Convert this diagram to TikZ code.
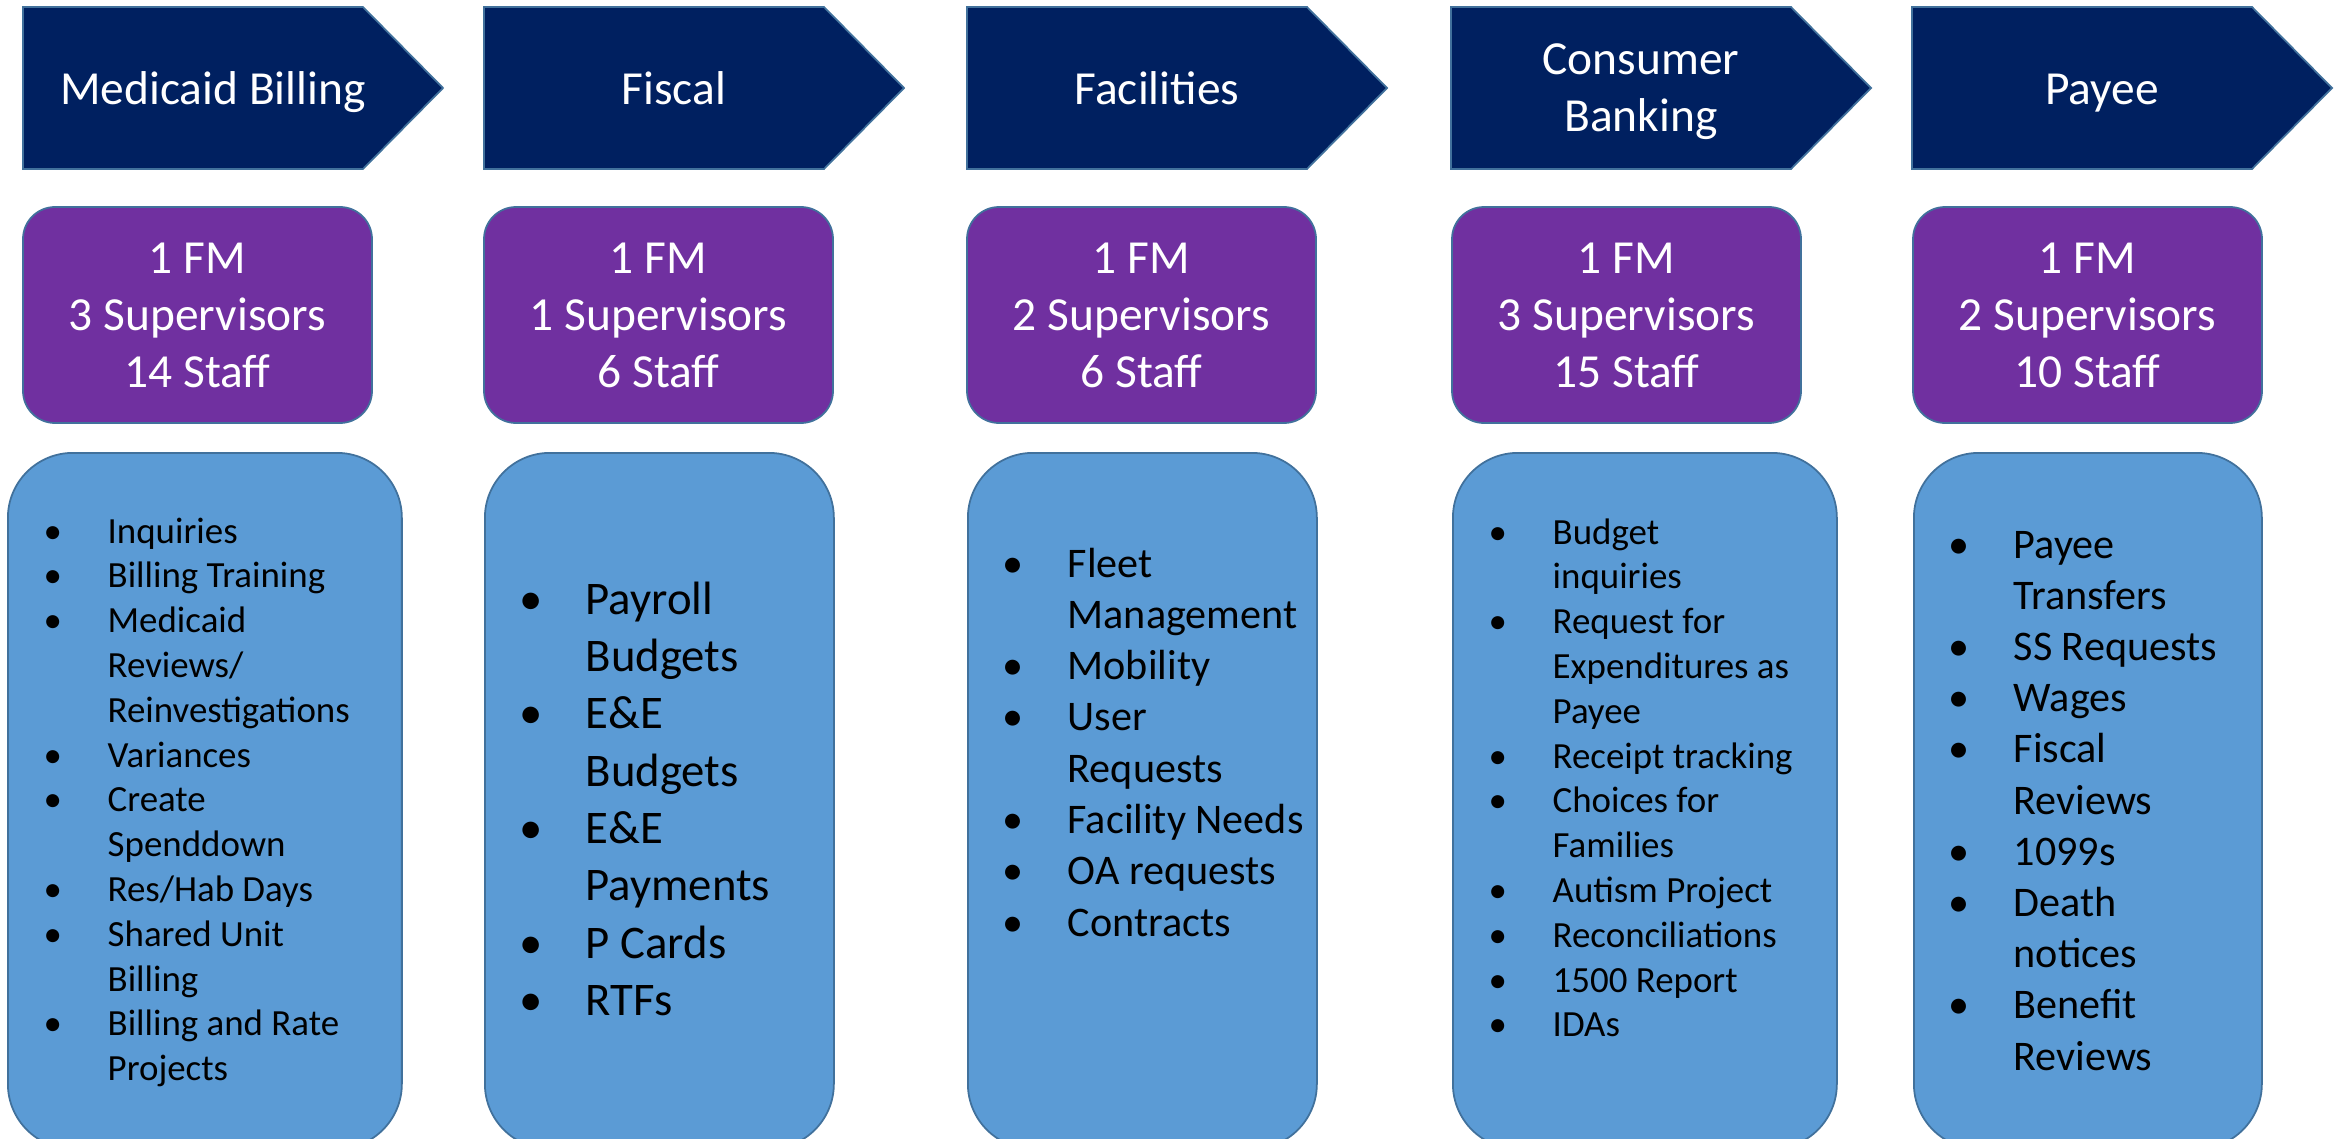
\documentclass[tikz,border=0pt]{standalone}
\usepackage{fontspec}
\setmainfont{Carlito}
\usepackage{tikz}

\definecolor{navy}{HTML}{002060}
\definecolor{grape}{HTML}{7030A0}
\definecolor{sky}{HTML}{5B9BD5}
\definecolor{rim}{HTML}{41719C}
\newcommand{\bl}{\makebox[0pt][c]{\textbullet}}

\begin{document}
\begin{tikzpicture}[x=0.1mm,y=-0.1mm]
\tikzstyle{head}=[draw=rim,fill=navy,line width=0.5pt]
\tikzstyle{headtext}=[anchor=base,text=white,inner sep=0pt,font=\fontsize{13.5}{16.2}\selectfont]
\tikzstyle{crew}=[draw=rim,fill=grape,line width=0.5pt,rounded corners=3.2mm,minimum width=34.9mm,minimum height=21.6mm,inner sep=0pt,text=white,align=center,font=\fontsize{13.5}{16.2}\selectfont]
\tikzstyle{duty}=[draw=rim,fill=sky,line width=0.5pt,rounded corners=6.5mm,minimum height=69.6mm,anchor=north west,inner sep=0pt]
\tikzstyle{items}=[anchor=base west,inner sep=0pt,text=black]

\useasboundingbox (0,0) rectangle (2344,1139);

% header chevrons
\foreach \xa/\yb/\nm/\tx in {23/104/mb/Medicaid Billing, 484/104/fi/Fiscal, 967/104/fa/Facilities, 1451/75/cb/{Consumer\\Banking}, 1912/104/pa/Payee} {
\draw[head] (\xa,7) -- ++(340,0) -- ++(80,81) -- ++(-80,81) -- ++(-340,0) -- cycle;
\node[headtext] (h\nm) at (\xa+190,\yb) {\begin{tabular}[t]{@{}c@{}}\tx\end{tabular}};
}

% head counts
\foreach \xa/\nm/\nsv/\nst in {23/mb/3/14, 484/fi/1/6, 967/fa/2/6, 1452/cb/3/15, 1913/pa/2/10}
\node[crew] (c\nm) at (\xa+174.5,315) {1 FM\\\nsv{} Supervisors\\\nst{} Staff};

% duty boxes
\node[duty,minimum width=39.4mm] (dmb) at (7,452) {};
\node[duty,minimum width=34.9mm] (dfi) at (484,452) {};
\node[duty,minimum width=34.9mm] (dfa) at (967,452) {};
\node[duty,minimum width=38.4mm] (dcb) at (1452,452) {};
\node[duty,minimum width=34.8mm] (dpa) at (1913,452) {};

\node[items,font=\fontsize{10.5}{12.75}\selectfont] (lmb) at (52,543) {\begin{tabular}[t]{@{}l@{\hspace{5.5mm}}l@{}}
\bl & Inquiries\\
\bl & Billing Training\\
\bl & Medicaid\\
    & Reviews/\\
    & Reinvestigations\\
\bl & Variances\\
\bl & Create\\
    & Spenddown\\
\bl & Res/Hab Days\\
\bl & Shared Unit\\
    & Billing\\
\bl & Billing and Rate\\
    & Projects
\end{tabular}};

\node[items,font=\fontsize{13.3}{16.33}\selectfont] (lfi) at (530,614) {\begin{tabular}[t]{@{}l@{\hspace{5.5mm}}l@{}}
\bl & Payroll\\
    & Budgets\\
\bl & E\&E\\
    & Budgets\\
\bl & E\&E\\
    & Payments\\
\bl & P Cards\\
\bl & RTFs
\end{tabular}};

\node[items,font=\fontsize{12}{14.6}\selectfont] (lfa) at (1012,577) {\begin{tabular}[t]{@{}l@{\hspace{5.5mm}}l@{}}
\bl & Fleet\\
    & Management\\
\bl & Mobility\\
\bl & User\\
    & Requests\\
\bl & Facility Needs\\
\bl & OA requests\\
\bl & Contracts
\end{tabular}};

\node[items,font=\fontsize{10.5}{12.75}\selectfont] (lcb) at (1497,544) {\begin{tabular}[t]{@{}l@{\hspace{5.5mm}}l@{}}
\bl & Budget\\
    & inquiries\\
\bl & Request for\\
    & Expenditures as\\
    & Payee\\
\bl & Receipt tracking\\
\bl & Choices for\\
    & Families\\
\bl & Autism Project\\
\bl & Reconciliations\\
\bl & 1500 Report\\
\bl & IDAs
\end{tabular}};

\node[items,font=\fontsize{12}{14.57}\selectfont] (lpa) at (1958,558) {\begin{tabular}[t]{@{}l@{\hspace{5.5mm}}l@{}}
\bl & Payee\\
    & Transfers\\
\bl & SS Requests\\
\bl & Wages\\
\bl & Fiscal\\
    & Reviews\\
\bl & 1099s\\
\bl & Death\\
    & notices\\
\bl & Benefit\\
    & Reviews
\end{tabular}};

\end{tikzpicture}
\end{document}
